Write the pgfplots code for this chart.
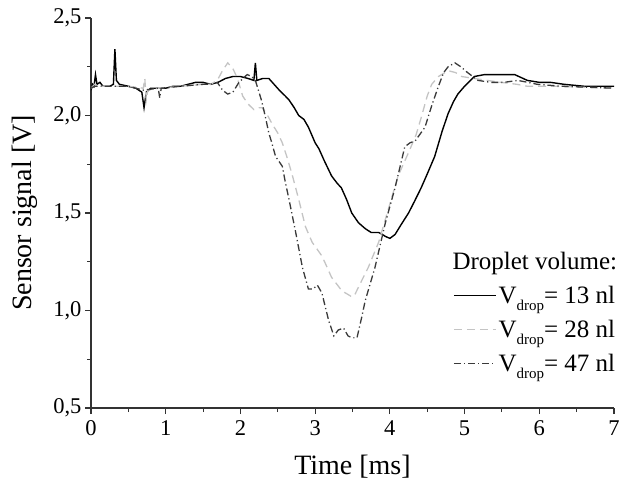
\documentclass[border=0pt]{standalone}
\usepackage{fontspec}
\setmainfont{Liberation Serif}
\usepackage{pgfplots}
\pgfplotsset{compat=1.18}
\definecolor{lightg}{HTML}{C4C4C4}
\definecolor{darkg}{HTML}{3A3A3A}
\definecolor{axcol}{HTML}{333333}
\newcommand{\Vd}{V\raisebox{-7pt}{\fontsize{15}{15}\selectfont drop}}
\begin{document}
\begin{tikzpicture}
\begin{axis}[
  name=ax,
  scale only axis, width=523pt, height=390pt,
  xmin=0, xmax=7, ymin=0.5, ymax=2.5,
  axis lines*=left,
  axis line style={axcol, line width=1.1pt, -},
  tick align=outside,
  tick style={axcol, line width=1.1pt},
  major tick length=6pt, minor tick length=4pt,
  xtick={0,1,2,3,4,5,6,7}, minor x tick num=1,
  ytick={0.5,1.0,1.5,2.0,2.5}, minor y tick num=1,
  /pgf/number format/assume math mode=true,
  yticklabel style={/pgf/number format/.cd, use comma, fixed, fixed zerofill, precision=1},
  xticklabel style={yshift=-3pt},
  ticklabel style={font=\fontsize{22.5}{24}\selectfont, text=black},
  xlabel={Time [ms]}, ylabel={Sensor signal [V]},
  xlabel style={font=\fontsize{28}{30}\selectfont},
  ylabel style={font=\fontsize{28}{30}\selectfont},
  xlabel shift=12pt, ylabel shift=9pt,
  legend style={at={(rel axis cs:0.692,0.405)}, anchor=north west, draw=none, fill=none,
    font=\fontsize{25}{28}\selectfont, row sep=11pt, inner sep=0pt},
  legend cell align=left,
  legend image code/.code={\draw[#1] (0pt,0pt) -- (42pt,0pt);},
]
\addlegendimage{empty legend}
\addlegendentry{\hspace{-46pt}Droplet volume:}

\addplot[black, line width=1.4pt] coordinates {
(0,2.13) (0.02,2.16) (0.04,2.15) (0.06,2.21) (0.08,2.16) (0.12,2.17) (0.16,2.15) (0.25,2.15)
(0.30,2.16) (0.32,2.34) (0.34,2.18) (0.38,2.16) (0.5,2.15) (0.6,2.14) (0.68,2.12) (0.71,2.04)
(0.74,2.12) (0.8,2.14) (0.9,2.14) (1.0,2.14) (1.1,2.15) (1.2,2.15) (1.3,2.16) (1.4,2.17)
(1.5,2.17) (1.6,2.16) (1.7,2.17) (1.8,2.19) (1.9,2.20) (2.0,2.20) (2.1,2.19) (2.18,2.18)
(2.2,2.27) (2.22,2.18) (2.3,2.19) (2.38,2.19) (2.45,2.16) (2.52,2.13) (2.6,2.10) (2.65,2.08)
(2.72,2.04) (2.78,2.00) (2.85,1.98) (2.91,1.94) (3.0,1.86) (3.05,1.83) (3.12,1.77) (3.22,1.69)
(3.3,1.65) (3.35,1.63) (3.42,1.57) (3.49,1.50) (3.58,1.45) (3.67,1.42) (3.75,1.40) (3.85,1.40)
(3.9,1.39) (3.94,1.38) (4.0,1.37) (4.07,1.39) (4.15,1.44) (4.25,1.50) (4.33,1.56) (4.42,1.63)
(4.5,1.70) (4.6,1.79) (4.7,1.92) (4.78,2.01) (4.85,2.07) (4.91,2.11) (5.0,2.15) (5.13,2.20)
(5.27,2.21) (5.5,2.21) (5.67,2.21) (5.84,2.18) (6.0,2.17) (6.15,2.17) (6.33,2.16) (6.6,2.15)
(7.0,2.15)
};
\addlegendentry{\Vd= 13 nl}

\addplot[lightg, line width=1.3pt, dash pattern=on 8pt off 5pt] coordinates {
(0,2.14) (0.05,2.16) (0.1,2.15) (0.3,2.15) (0.5,2.15) (0.7,2.14) (0.72,2.19) (0.74,2.08)
(0.76,2.13) (0.9,2.14) (1.2,2.15) (1.5,2.16) (1.6,2.16) (1.69,2.18) (1.76,2.23) (1.83,2.27)
(1.9,2.24) (1.96,2.19) (2.03,2.10) (2.1,2.06) (2.18,2.03) (2.25,2.04) (2.29,2.04) (2.35,2.01)
(2.42,1.96) (2.5,1.91) (2.56,1.86) (2.62,1.79) (2.69,1.70) (2.78,1.57) (2.87,1.43) (2.96,1.35)
(3.09,1.28) (3.15,1.23) (3.22,1.17) (3.3,1.13) (3.36,1.10) (3.45,1.08) (3.49,1.07) (3.53,1.08)
(3.58,1.12) (3.71,1.22) (3.85,1.35) (3.98,1.52) (4.11,1.69) (4.25,1.81) (4.35,1.90) (4.42,1.99)
(4.5,2.10) (4.56,2.16) (4.65,2.20) (4.78,2.23) (4.88,2.22) (4.96,2.20) (5.13,2.19) (5.3,2.18)
(5.49,2.17) (5.7,2.16) (5.84,2.15) (6.2,2.15) (7.0,2.14)
};
\addlegendentry{\Vd= 28 nl}

\addplot[darkg, line width=1.3pt, dash pattern=on 7pt off 3pt on 1.2pt off 3pt] coordinates {
(0,2.14) (0.05,2.15) (0.3,2.15) (0.5,2.15) (0.7,2.13) (0.9,2.14) (0.92,2.09) (0.94,2.14)
(1.2,2.15) (1.5,2.16) (1.6,2.16) (1.69,2.17) (1.76,2.13) (1.83,2.11) (1.9,2.12) (1.98,2.17)
(2.09,2.21) (2.15,2.20) (2.2,2.18) (2.28,2.08) (2.33,2.00) (2.38,1.91) (2.42,1.86) (2.47,1.79)
(2.56,1.74) (2.6,1.66) (2.65,1.57) (2.74,1.40) (2.83,1.22) (2.91,1.11) (2.97,1.11) (3.03,1.13)
(3.09,1.09) (3.18,0.95) (3.25,0.87) (3.31,0.90) (3.38,0.91) (3.44,0.87) (3.49,0.86) (3.56,0.86)
(3.62,0.96) (3.67,1.05) (3.8,1.22) (3.94,1.45) (4.07,1.63) (4.2,1.84) (4.27,1.86) (4.34,1.87)
(4.47,1.94) (4.56,2.05) (4.65,2.15) (4.72,2.22) (4.78,2.25) (4.87,2.27) (4.95,2.25) (5.04,2.22)
(5.18,2.18) (5.35,2.17) (5.53,2.17) (5.71,2.18) (5.85,2.17) (5.97,2.16) (6.3,2.15) (7.0,2.14)
};
\addlegendentry{\Vd= 47 nl}
\end{axis}
\pgfresetboundingbox
\path ([xshift=-91pt,yshift=-80pt]ax.south west) rectangle ([xshift=7pt,yshift=18pt]ax.north east);
\end{tikzpicture}
\end{document}
